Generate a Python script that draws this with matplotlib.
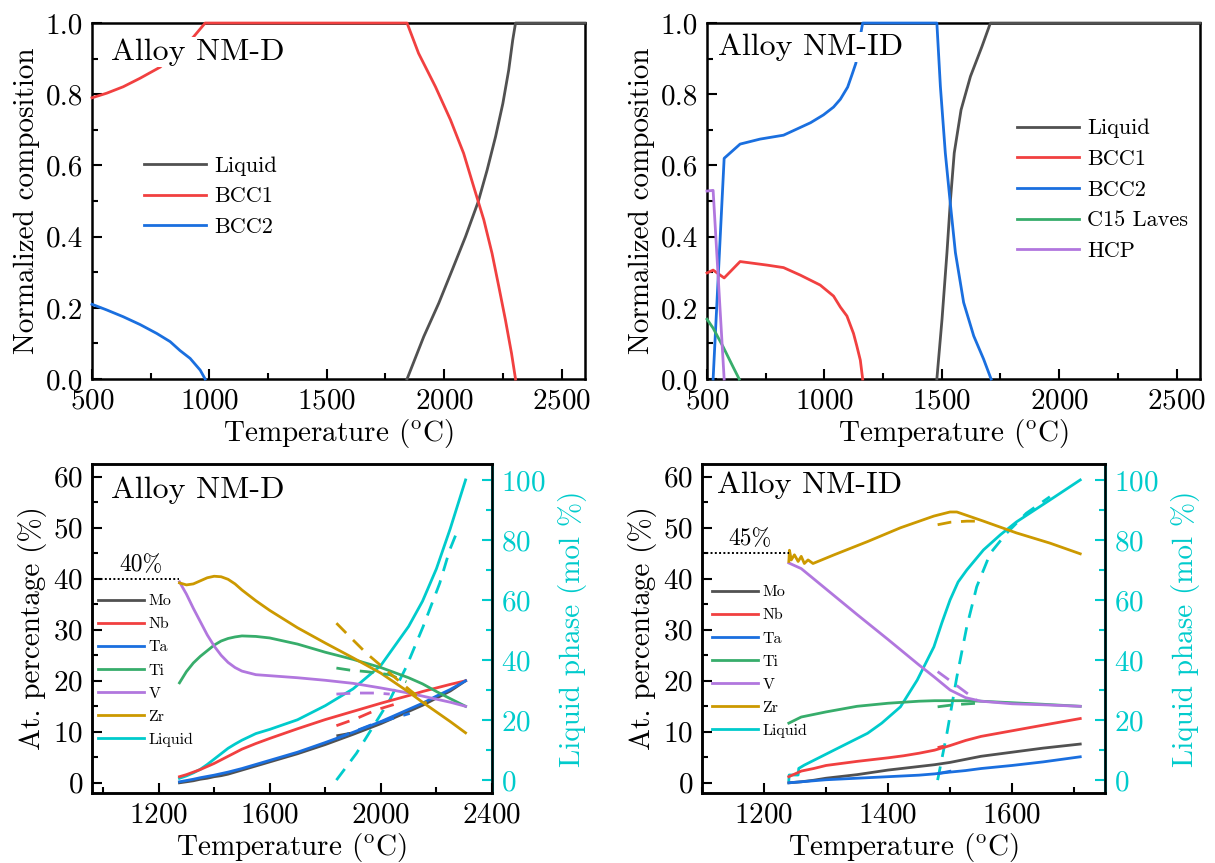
import matplotlib
matplotlib.use("Agg")
import matplotlib.pyplot as plt
from matplotlib.ticker import MultipleLocator

# Equilibrium phase fractions, alloy NM-D
d_liq_T = [1842, 1913, 1977, 2034, 2091, 2145, 2183, 2219, 2250, 2275, 2292, 2304, 2600]
d_liq = [0.0, 0.119, 0.213, 0.306, 0.4, 0.498, 0.587, 0.681, 0.774, 0.868, 0.952, 1.0, 1.0]
d_bcc1_T = [500, 563, 633, 705, 790, 931, 982, 1842, 1891, 1963, 2027, 2083, 2126, 2169,
            2204, 2233, 2261, 2287, 2304]
d_bcc1 = [0.79, 0.803, 0.821, 0.845, 0.876, 0.96, 1.0, 1.0, 0.915, 0.821, 0.728, 0.634,
          0.540, 0.447, 0.353, 0.259, 0.166, 0.072, 0.0]
d_bcc2_T = [500, 563, 633, 705, 776, 833, 875, 918, 961, 982]
d_bcc2 = [0.21, 0.194, 0.175, 0.153, 0.128, 0.105, 0.08, 0.058, 0.025, 0.0]

# Equilibrium phase fractions, alloy NM-ID
id_liq_T = [1479, 1501, 1522, 1536, 1553, 1582, 1622, 1671, 1707, 2600]
id_liq = [0.0, 0.168, 0.355, 0.495, 0.635, 0.756, 0.85, 0.934, 1.0, 1.0]
id_bcc1_T = [500, 526, 573, 641, 756, 826, 897, 982, 1039, 1068, 1096, 1124, 1138, 1153, 1163]
id_bcc1 = [0.298, 0.306, 0.284, 0.33, 0.32, 0.313, 0.292, 0.264, 0.233, 0.202, 0.177,
           0.128, 0.093, 0.053, 0.0]
id_bcc2_T = [526, 573, 641, 726, 826, 941, 996, 1039, 1068, 1099, 1117, 1134, 1145, 1163,
             1479, 1494, 1515, 1536, 1558, 1593, 1636, 1678, 1710]
id_bcc2 = [0.0, 0.62, 0.66, 0.674, 0.685, 0.72, 0.742, 0.764, 0.786, 0.82, 0.854, 0.887,
           0.934, 1.0, 1.0, 0.822, 0.635, 0.495, 0.355, 0.215, 0.121, 0.056, 0.0]
id_c15_T = [500, 526, 569, 611, 637]
id_c15 = [0.168, 0.143, 0.09, 0.034, 0.0]
id_hcp_T = [500, 526, 573]
id_hcp = [0.528, 0.53, 0.0]

# Liquid composition on cooling, alloy NM-D (solid lines)
dl_T = [1275, 1300, 1325, 1350, 1375, 1400, 1425, 1450, 1475, 1500, 1550, 1600, 1700,
        1800, 1900, 2000, 2100, 2150, 2200, 2250, 2305]
dl_mo = [0.0, 0.2, 0.4, 0.7, 0.9, 1.2, 1.4, 1.7, 2.1, 2.5, 3.3, 4.1, 5.7,
         7.5, 9.5, 11.6, 14.0, 15.2, 16.6, 18.0, 20.0]
dl_nb = [1.2, 1.6, 2.1, 2.6, 3.2, 3.8, 4.5, 5.2, 5.9, 6.6, 7.7, 8.7, 10.6,
         12.4, 14.0, 15.6, 17.1, 17.9, 18.6, 19.3, 20.0]
dl_ta = [0.2, 0.45, 0.7, 1.0, 1.25, 1.5, 1.8, 2.1, 2.45, 2.8, 3.6, 4.4, 6.0,
         7.9, 9.9, 12.0, 14.4, 15.6, 17.0, 18.3, 20.0]
dl_ti = [19.6, 21.8, 23.5, 24.8, 25.9, 27.0, 27.8, 28.3, 28.6, 28.8, 28.7, 28.4, 27.2,
         25.6, 24.2, 22.6, 20.6, 19.4, 17.9, 16.5, 15.0]
dl_v = [39.4, 37.0, 34.2, 31.6, 29.0, 26.8, 25.0, 23.6, 22.6, 21.9, 21.2, 21.0, 20.6,
        20.1, 19.5, 18.6, 17.6, 17.0, 16.4, 15.8, 15.0]
dl_zr = [39.2, 38.8, 39.0, 39.6, 40.2, 40.5, 40.4, 39.9, 39.0, 37.8, 35.7, 33.8, 30.4,
         27.4, 24.5, 21.5, 17.8, 15.8, 13.9, 12.0, 9.8]
dl_liq = [0.6, 1.4, 2.4, 3.6, 5.2, 7.0, 8.8, 10.6, 12.0, 13.3, 15.5, 16.9, 20.1,
          24.8, 30.4, 38.2, 51.2, 59.6, 70.4, 83.8, 100.0]

# Alloy NM-D, dashed lines
dd_mo_T, dd_mo = [1840, 1890], [9.2, 9.7]
dd_nb_T, dd_nb = [1840, 1912, 1984, 2068], [11.2, 12.6, 14.3, 15.7]
dd_ta_T, dd_ta = [1840, 1972, 2104], [8.7, 11.5, 13.6]
dd_ti_T, dd_ti = [1840, 1888, 1948, 2032, 2092], [22.5, 22.1, 21.8, 21.2, 19.8]
dd_v_T, dd_v = [1840, 1912, 1984, 2032], [17.4, 17.6, 17.6, 17.4]
dd_zr_T, dd_zr = [1840, 1900, 1948, 2032, 2104, 2164], [31.3, 28.0, 25.4, 21.5, 18.2, 15.6]
dd_liq_T = [1840, 1912, 1972, 2032, 2092, 2152, 2212, 2248, 2272]
dd_liq = [0.0, 8.9, 17.8, 26.7, 37.8, 51.1, 65.6, 76.7, 82.2]

# Liquid composition on cooling, alloy NM-ID (solid lines)
il_T = [1240, 1260, 1280, 1300, 1350, 1400, 1425, 1450, 1475, 1500, 1525, 1550, 1600,
        1650, 1710]
il_mo = [0.0, 0.2, 0.5, 0.9, 1.6, 2.5, 2.85, 3.2, 3.55, 4.0, 4.6, 5.2, 6.0, 6.8, 7.6]
il_nb = [1.2, 2.3, 2.8, 3.4, 4.2, 4.9, 5.3, 5.8, 6.4, 7.3, 8.3, 9.1, 10.2, 11.3, 12.6]
il_ta = [0.0, 0.2, 0.4, 0.6, 0.9, 1.2, 1.35, 1.5, 1.75, 2.1, 2.4, 2.8, 3.4, 4.1, 5.1]
il_ti = [11.7, 12.9, 13.4, 13.9, 15.0, 15.6, 15.8, 16.0, 16.1, 16.1, 16.1, 16.0, 15.7,
         15.4, 15.0]
il_v = [43.1, 42.0, 40.0, 38.0, 33.0, 28.1, 25.6, 23.1, 20.7, 18.2, 16.7, 16.0, 15.5,
        15.3, 15.0]
il_zr_T = [1240, 1241, 1244, 1249, 1255, 1260, 1265, 1271, 1279, 1313, 1367, 1420,
           1474, 1500, 1511, 1554, 1607, 1661, 1710]
il_zr = [43.4, 45.6, 43.7, 44.7, 43.4, 44.4, 43.0, 43.7, 43.0, 44.7, 47.3, 50.0,
         52.3, 53.1, 53.1, 51.3, 49.0, 47.0, 44.9]
il_liq_T = [1240, 1240.5, 1255, 1256, 1265, 1313, 1367, 1390, 1420, 1447, 1474, 1487,
            1500, 1513, 1527, 1554, 1581, 1607, 1661, 1710]
il_liq = [0.0, 1.7, 1.7, 3.9, 5.0, 10.0, 15.6, 19.0, 24.4, 33.3, 44.4, 52.5,
          60.0, 66.0, 70.0, 76.7, 81.7, 86.0, 93.3, 100.0]

# Alloy NM-ID, dashed lines
id_nb_T, id_nb = [1480, 1490], [6.9, 7.2]
id_ta_T, id_ta = [1480, 1506], [1.8, 2.4]
id_ti_T, id_ti = [1480, 1506, 1543], [14.9, 15.3, 15.6]
id_v_T, id_v = [1480, 1506, 1527, 1543], [21.8, 19.5, 17.6, 16.2]
id_zr_T, id_zr = [1480, 1501, 1527, 1546], [50.6, 51.1, 51.3, 51.3]
id_dliq_T = [1480, 1495, 1511, 1527, 1543, 1565, 1591, 1623, 1661]
id_dliq = [0.0, 15.6, 34.4, 51.1, 64.4, 75.6, 82.2, 88.9, 94.4]

C_LIQ = "#515151"
C_RED = "#F14040"
C_BLUE = "#1A6FDF"
C_GREEN = "#37AD6B"
C_PURPLE = "#B177DE"
C_GOLD = "#CC9900"
C_CYAN = "#00CBCC"

plt.rcParams["font.family"] = "cmr10"
plt.rcParams["mathtext.fontset"] = "cm"
plt.rcParams["axes.formatter.use_mathtext"] = True
plt.rcParams["axes.linewidth"] = 1.8

FS = 21
TLABEL = r"Temperature ($^{\rm o}$C)"
LW = 2.0


def style(ax):
    ax.tick_params(which="both", direction="in", top=False, right=False,
                   labelsize=FS, width=1.5, pad=6.5)
    ax.tick_params(which="major", length=7)
    ax.tick_params(which="minor", length=4)


def title(ax, s, x, y):
    ax.text(x, y, s, transform=ax.transAxes, fontsize=23, va="baseline", zorder=6,
            bbox=dict(facecolor="white", edgecolor="none", pad=1))


def phase_panel(rect, curves, legpos, name, tpos):
    ax = fig.add_axes(rect)
    for (t, y, c, lab) in curves:
        ax.plot(t, y, color=c, lw=LW, label=lab, clip_on=False, zorder=3)
    ax.set_xlim(500, 2600)
    ax.set_ylim(0, 1)
    ax.xaxis.set_major_locator(MultipleLocator(500))
    ax.xaxis.set_minor_locator(MultipleLocator(250))
    ax.yaxis.set_major_locator(MultipleLocator(0.2))
    ax.yaxis.set_minor_locator(MultipleLocator(0.1))
    ax.yaxis.set_major_formatter(plt.FuncFormatter(lambda v, p: "%.1f" % v))
    style(ax)
    ax.set_xlabel(TLABEL, fontsize=FS, labelpad=2)
    ax.set_ylabel("Normalized composition", fontsize=FS, labelpad=4)
    ax.legend(loc="upper left", bbox_to_anchor=legpos, frameon=False, fontsize=16,
              handlelength=2.8, handletextpad=0.36, labelspacing=0.5, borderpad=0,
              borderaxespad=0)
    title(ax, name, tpos[0], tpos[1])
    return ax


def liquid_panel(rect, xlim, xmaj, xmin, series, dashed, liq, dliq, ref, name, tpos, legpos):
    ax = fig.add_axes(rect)
    ax2 = ax.twinx()
    for (t, y, c, lab) in series:
        ax.plot(t, y, color=c, lw=LW, label=lab)
    for (t, y, c) in dashed:
        ax.plot(t, y, color=c, lw=LW, ls=(0, (5, 3.5)))
    ax.plot([], [], color=C_CYAN, lw=LW, label="Liquid")
    ax2.plot(liq[0], liq[1], color=C_CYAN, lw=LW)
    ax2.plot(dliq[0], dliq[1], color=C_CYAN, lw=LW, ls=(0, (5, 3.5)))

    # dotted guide to the starting Zr content
    ref_val, ref_end, ref_x = ref
    ax.plot([xlim[0], ref_end], [ref_val, ref_val], color="black", lw=1.4, ls=(0, (1, 1.2)))
    ax.text(ref_x, ref_val + 0.6, "%d%%" % ref_val, fontsize=17, ha="center", va="bottom")

    ax.set_xlim(*xlim)
    ax.set_ylim(-2, 62.5)
    ax2.set_ylim(-4.3, 105.3)
    ax.xaxis.set_major_locator(MultipleLocator(xmaj))
    ax.xaxis.set_minor_locator(MultipleLocator(xmin))
    ax.yaxis.set_major_locator(MultipleLocator(10))
    ax.yaxis.set_minor_locator(MultipleLocator(5))
    ax2.yaxis.set_major_locator(MultipleLocator(20))
    ax2.yaxis.set_minor_locator(MultipleLocator(10))
    style(ax)
    ax2.tick_params(which="both", direction="in", labelsize=FS, width=1.5, pad=6.5,
                    colors=C_CYAN)
    ax2.tick_params(which="major", length=7)
    ax2.tick_params(which="minor", length=4)
    ax2.spines["right"].set_color(C_CYAN)
    ax2.spines["right"].set_linewidth(2.2)
    ax.set_xlabel(TLABEL, fontsize=FS, labelpad=2)
    ax.set_ylabel("At. percentage (%)", fontsize=FS, labelpad=4)
    ax2.set_ylabel("Liquid phase (mol %)", fontsize=FS, color=C_CYAN, labelpad=9)
    ax.legend(loc="upper left", bbox_to_anchor=legpos, frameon=False, fontsize=11.5,
              handlelength=2.9, handletextpad=0.25, labelspacing=0.56, borderpad=0,
              borderaxespad=0)
    ax.set_zorder(ax2.get_zorder() + 1)
    ax.patch.set_visible(False)
    title(ax, name, tpos[0], tpos[1])
    return ax, ax2


fig = plt.figure(figsize=(12.15, 8.63), dpi=100)

phase_panel([0.0757, 0.5608, 0.4058, 0.4125],
            [(d_liq_T, d_liq, C_LIQ, "Liquid"), (d_bcc1_T, d_bcc1, C_RED, "BCC1"),
             (d_bcc2_T, d_bcc2, C_BLUE, "BCC2")],
            (0.105, 0.626), "Alloy NM-D", (0.0385, 0.896))

phase_panel([0.5819, 0.5608, 0.4058, 0.4125],
            [(id_liq_T, id_liq, C_LIQ, "Liquid"), (id_bcc1_T, id_bcc1, C_RED, "BCC1"),
             (id_bcc2_T, id_bcc2, C_BLUE, "BCC2"), (id_c15_T, id_c15, C_GREEN, "C15 Laves"),
             (id_hcp_T, id_hcp, C_PURPLE, "HCP")],
            (0.629, 0.731), "Alloy NM-ID", (0.022, 0.910))

liquid_panel([0.0757, 0.0811, 0.3292, 0.3812], (960, 2400), 400, 200,
             [(dl_T, dl_mo, C_LIQ, "Mo"), (dl_T, dl_nb, C_RED, "Nb"),
              (dl_T, dl_ta, C_BLUE, "Ta"), (dl_T, dl_ti, C_GREEN, "Ti"),
              (dl_T, dl_v, C_PURPLE, "V"), (dl_T, dl_zr, C_GOLD, "Zr")],
             [(dd_mo_T, dd_mo, C_LIQ), (dd_nb_T, dd_nb, C_RED), (dd_ta_T, dd_ta, C_BLUE),
              (dd_ti_T, dd_ti, C_GREEN), (dd_v_T, dd_v, C_PURPLE), (dd_zr_T, dd_zr, C_GOLD)],
             (dl_T, dl_liq), (dd_liq_T, dd_liq), (40, 1275, 1135), "Alloy NM-D",
             (0.0475, 0.897), (0.015, 0.605))

liquid_panel([0.5778, 0.0811, 0.3317, 0.3812], (1100, 1750), 200, 100,
             [(il_T, il_mo, C_LIQ, "Mo"), (il_T, il_nb, C_RED, "Nb"),
              (il_T, il_ta, C_BLUE, "Ta"), (il_T, il_ti, C_GREEN, "Ti"),
              (il_T, il_v, C_PURPLE, "V"), (il_zr_T, il_zr, C_GOLD, "Zr")],
             [(id_nb_T, id_nb, C_RED), (id_ta_T, id_ta, C_BLUE),
              (id_ti_T, id_ti, C_GREEN), (id_v_T, id_v, C_PURPLE), (id_zr_T, id_zr, C_GOLD)],
             (il_liq_T, il_liq), (id_dliq_T, id_dliq), (45, 1240, 1177), "Alloy NM-ID",
             (0.037, 0.912), (0.025, 0.632))

fig.savefig("out.png", dpi=100)
